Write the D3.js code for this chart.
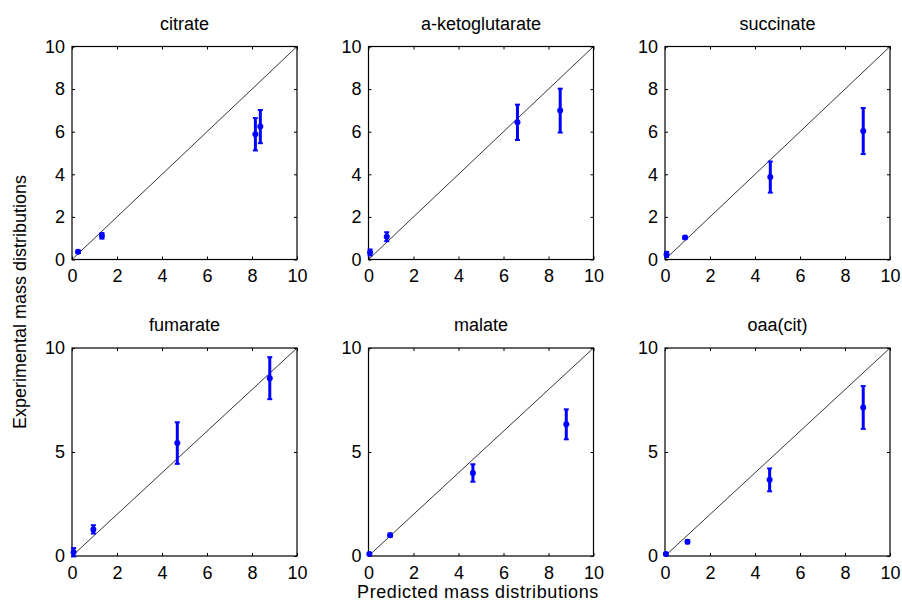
<!DOCTYPE html>
<html>
<head>
<meta charset="utf-8">
<script src="https://cdn.jsdelivr.net/npm/d3@7"></script>
<style>
	body { margin: 0; background: #fff; }
	svg { display: block; font-family: "Liberation Sans", Arial, sans-serif; }
</style>
</head>
<body>
<svg id="chart" width="902" height="604"></svg>
<script>
// données
const titles = ["citrate", "a-ketoglutarate", "succinate", "fumarate", "malate", "oaa(cit)"];
const predicted = [
	[0.27, 1.33, 8.15, 8.37],
	[0.07, 0.81, 6.62, 8.52],
	[0.07, 0.89, 4.68, 8.81],
	[0.07, 0.95, 4.68, 8.79],
	[0.04, 0.96, 4.64, 8.79],
	[0.04, 1.00, 4.65, 8.81]
];
const experimental = [
	[0.36, 1.11, 5.88, 6.24],
	[0.33, 1.07, 6.44, 6.99],
	[0.24, 1.03, 3.87, 6.03],
	[0.18, 1.28, 5.43, 8.55],
	[0.10, 1.00, 3.99, 6.33],
	[0.10, 0.69, 3.66, 7.14]
];
const errors = [
	[0.06, 0.13, 0.76, 0.78],
	[0.14, 0.21, 0.83, 1.03],
	[0.12, 0.06, 0.73, 1.08],
	[0.20, 0.20, 1.00, 1.01],
	[0.05, 0.08, 0.42, 0.72],
	[0.05, 0.08, 0.55, 1.03]
];
const diagonal = [0, 10];
const xTicks = [0, 2, 4, 6, 8, 10];
const yTicksTop = [0, 2, 4, 6, 8, 10];
const yTicksBottom = [0, 5, 10];

// mise en page
const colLeft = [72, 368.5, 665];
const rowTop = [46.5, 348];
const rowHeight = [213, 208];
const plotWidth = 225;
const blue = "#0000ff";
const fs = "18px";

let svg = d3.select("#chart");

titles.forEach((title, k) => {
	let row = Math.floor(k / 3), col = k % 3;
	let left = colLeft[col], top = rowTop[row], h = rowHeight[row];
	let x = d3.scaleLinear().domain([0, 10]).range([left, left + plotWidth]);
	let y = d3.scaleLinear().domain([0, 10]).range([top + h, top]);
	let yTicks = row === 0 ? yTicksTop : yTicksBottom;
	let g = svg.append("g");

	// axes façon matlab : ticks vers l'intérieur sur les 4 côtés
	let styleAxis = a => {
		a.select(".domain").remove();
		a.selectAll(".tick line").attr("stroke", "#000");
		a.selectAll("text").attr("fill", "#000").style("font-size", fs);
	};
	g.append("g")
		.attr("transform", `translate(0,${top + h})`)
		.call(d3.axisBottom(x).tickValues(xTicks).tickSizeInner(-3).tickSizeOuter(0).tickPadding(10))
		.call(styleAxis);
	g.append("g")
		.attr("transform", `translate(0,${top})`)
		.call(d3.axisTop(x).tickValues(xTicks).tickSizeInner(-3).tickSizeOuter(0).tickFormat(""))
		.call(styleAxis);
	g.append("g")
		.attr("transform", `translate(${left},0)`)
		.call(d3.axisLeft(y).tickValues(yTicks).tickSizeInner(-3).tickSizeOuter(0).tickPadding(7))
		.call(styleAxis);
	g.append("g")
		.attr("transform", `translate(${left + plotWidth},0)`)
		.call(d3.axisRight(y).tickValues(yTicks).tickSizeInner(-3).tickSizeOuter(0).tickFormat(""))
		.call(styleAxis);
	g.append("rect")
		.attr("x", left).attr("y", top)
		.attr("width", plotWidth).attr("height", h)
		.attr("fill", "none").attr("stroke", "#000").attr("stroke-width", 1.2);

	// diagonale y = x
	g.append("line")
		.attr("x1", x(diagonal[0])).attr("y1", y(diagonal[0]))
		.attr("x2", x(diagonal[1])).attr("y2", y(diagonal[1]))
		.attr("stroke", "#000").attr("stroke-width", 0.8);

	// barres d'erreur
	let pts = predicted[k].map((p, i) => ({p, e: experimental[k][i], err: errors[k][i]}));
	let eb = g.append("g").selectAll("g").data(pts).join("g");
	eb.append("line")
		.attr("x1", d => x(d.p)).attr("x2", d => x(d.p))
		.attr("y1", d => y(d.e - d.err)).attr("y2", d => y(d.e + d.err))
		.attr("stroke", blue).attr("stroke-width", 3);
	for (let s of [-1, 1]) {
		eb.append("line")
			.attr("x1", d => x(d.p) - 2.5).attr("x2", d => x(d.p) + 2.5)
			.attr("y1", d => y(d.e + s * d.err)).attr("y2", d => y(d.e + s * d.err))
			.attr("stroke", blue).attr("stroke-width", 2);
	}
	eb.append("circle")
		.attr("cx", d => x(d.p)).attr("cy", d => y(d.e))
		.attr("r", 3).attr("fill", blue);

	// titre
	g.append("text")
		.attr("x", left + plotWidth / 2).attr("y", top - 17)
		.attr("text-anchor", "middle")
		.style("font-size", fs)
		.text(title);
});

svg.append("text")
	.attr("x", 478).attr("y", 598)
	.attr("text-anchor", "middle")
	.style("font-size", fs)
	.style("letter-spacing", "0.6px")
	.text("Predicted mass distributions");
svg.append("text")
	.attr("transform", "translate(26,302) rotate(-90)")
	.attr("text-anchor", "middle")
	.style("font-size", fs)
	.text("Experimental mass distributions");
</script>
</body>
</html>
